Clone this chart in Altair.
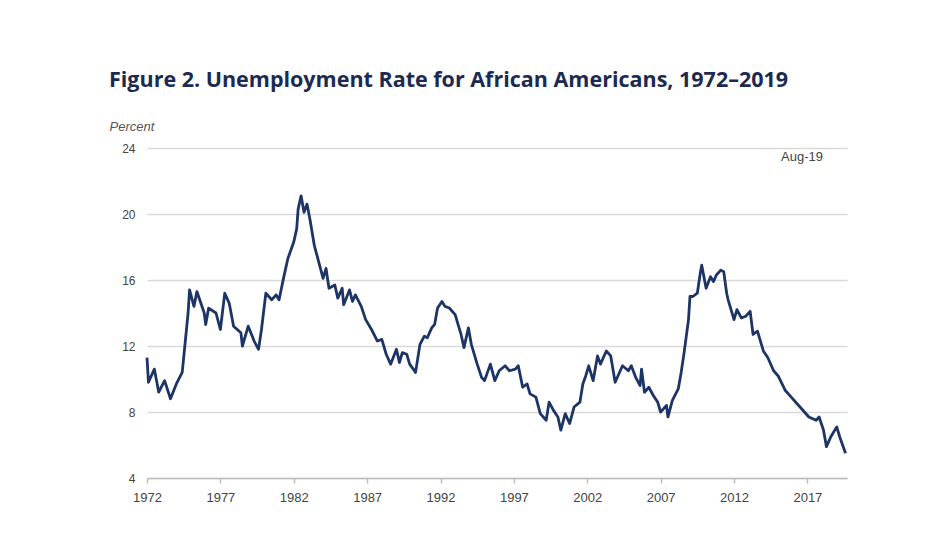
import altair as alt
import pandas as pd

years = [1972.0, 1972.1, 1972.5, 1972.8, 1973.2, 1973.6, 1974.0, 1974.4, 1974.8, 1974.9,
         1975.2, 1975.4, 1975.9, 1976.0, 1976.2, 1976.7, 1977.0, 1977.3, 1977.6, 1977.9,
         1978.4, 1978.5, 1978.9, 1979.3, 1979.6, 1979.8, 1980.1, 1980.5, 1980.8, 1981.0,
         1981.3, 1981.6, 1982.0, 1982.2, 1982.3, 1982.5, 1982.7, 1982.9, 1983.1, 1983.4,
         1983.7, 1984.0, 1984.2, 1984.4, 1984.8, 1985.0, 1985.3, 1985.4, 1985.8, 1986.0,
         1986.2, 1986.6, 1986.9, 1987.3, 1987.7, 1988.0, 1988.3, 1988.6, 1989.0, 1989.2,
         1989.4, 1989.7, 1989.9, 1990.3, 1990.6, 1990.9, 1991.1, 1991.4, 1991.6, 1991.8,
         1992.1, 1992.3, 1992.6, 1993.0, 1993.2, 1993.4, 1993.6, 1993.9, 1994.1, 1994.5,
         1994.8, 1995.0, 1995.4, 1995.7, 1996.0, 1996.4, 1996.7, 1997.1, 1997.3, 1997.6,
         1997.9, 1998.1, 1998.5, 1998.8, 1999.2, 1999.4, 1999.7, 2000.0, 2000.2, 2000.5,
         2000.8, 2001.1, 2001.5, 2001.7, 2001.9, 2002.1, 2002.4, 2002.7, 2002.9, 2003.3,
         2003.6, 2003.9, 2004.4, 2004.8, 2005.0, 2005.3, 2005.6, 2005.7, 2005.9, 2006.2,
         2006.5, 2006.8, 2007.0, 2007.4, 2007.5, 2007.8, 2008.2, 2008.4, 2008.6, 2008.9,
         2009.0, 2009.2, 2009.5, 2009.7, 2009.8, 2010.1, 2010.4, 2010.6, 2010.8, 2011.1,
         2011.3, 2011.5, 2011.6, 2011.9, 2012.0, 2012.2, 2012.5, 2012.8, 2013.1, 2013.3,
         2013.6, 2014.0, 2014.3, 2014.7, 2015.0, 2015.5, 2015.9, 2016.3, 2016.8, 2017.1,
         2017.6, 2017.8, 2018.1, 2018.3, 2018.6, 2019.0, 2019.2, 2019.6]

rates = [11.3, 9.8, 10.6, 9.2, 9.9, 8.8, 9.7, 10.4, 14.0, 15.4,
         14.4, 15.3, 14.0, 13.3, 14.3, 14.0, 13.0, 15.2, 14.6, 13.2,
         12.8, 12.0, 13.2, 12.3, 11.8, 13.0, 15.2, 14.8, 15.1, 14.8,
         16.1, 17.3, 18.3, 19.1, 20.3, 21.1, 20.1, 20.6, 19.7, 18.1,
         17.1, 16.1, 16.7, 15.5, 15.7, 14.9, 15.5, 14.5, 15.4, 14.7,
         15.1, 14.4, 13.6, 13.0, 12.3, 12.4, 11.5, 10.9, 11.8, 11.0,
         11.6, 11.5, 10.9, 10.4, 12.1, 12.6, 12.5, 13.1, 13.3, 14.3,
         14.7, 14.4, 14.3, 13.9, 13.3, 12.7, 11.9, 13.1, 12.1, 10.9,
         10.1, 9.9, 10.9, 9.9, 10.5, 10.8, 10.5, 10.6, 10.8, 9.5,
         9.7, 9.1, 8.9, 7.9, 7.5, 8.6, 8.1, 7.7, 6.9, 7.9,
         7.3, 8.3, 8.6, 9.7, 10.2, 10.8, 9.9, 11.4, 10.9, 11.7,
         11.4, 9.8, 10.8, 10.5, 10.8, 10.1, 9.6, 10.6, 9.2, 9.5,
         9.0, 8.6, 8.0, 8.4, 7.7, 8.7, 9.4, 10.4, 11.6, 13.6,
         15.0, 15.0, 15.2, 16.4, 16.9, 15.5, 16.2, 15.9, 16.3, 16.6,
         16.5, 15.2, 14.8, 13.9, 13.6, 14.2, 13.7, 13.8, 14.1, 12.7,
         12.9, 11.7, 11.3, 10.5, 10.2, 9.3, 8.9, 8.5, 8.0, 7.7,
         7.5, 7.7, 6.9, 5.9, 6.5, 7.1, 6.5, 5.5]

x_ticks = [1972, 1977, 1982, 1987, 1992, 1997, 2002, 2007, 2012, 2017]
y_ticks = [4, 8, 12, 16, 20, 24]

df = pd.DataFrame({"year": years, "rate": rates})

W, H = 700, 330
NAVY = "#1d3466"

line = alt.Chart(df).mark_line(color=NAVY, strokeWidth=2.8, strokeJoin="round").encode(
    x=alt.X("year:Q", scale=alt.Scale(domain=[1972, 2019.7], nice=False, zero=False),
            axis=alt.Axis(values=x_ticks, format="d", title=None, grid=False,
                          labelFlush=False,
                          domainColor="#bdbdbd", domainWidth=1.5, tickColor="#bdbdbd",
                          tickSize=5, tickWidth=1.5, labelFont="Liberation Sans",
                          labelFontSize=13, labelColor="#444444", labelPadding=8)),
    y=alt.Y("rate:Q", scale=alt.Scale(domain=[4, 24], nice=False, zero=False),
            axis=alt.Axis(values=y_ticks, title="Percent", titleAngle=0, titleAlign="left",
                          titleBaseline="alphabetic", titleX=-38, titleY=-18,
                          titleFont="Liberation Sans", titleFontStyle="italic",
                          titleFontWeight="normal", titleFontSize=13, titleColor="#555555",
                          domain=False, ticks=False, gridColor="#d9d9d9", gridWidth=1.5,
                          labelFont="Liberation Sans", labelFontSize=12,
                          labelColor="#444444", labelPadding=12)),
)

note = alt.Chart(pd.DataFrame({"t": ["Aug-19"]})).mark_text(
    align="right", baseline="middle", font="Liberation Sans", fontSize=13, color="#444444"
).encode(x=alt.value(W - 24), y=alt.value(9), text="t:N")

chart = (line + note).properties(
    width=W, height=H,
    background="white",
    autosize=alt.AutoSizeParams(type="none"),
    padding={"left": 139, "top": 140, "right": 20, "bottom": 40},
    title=alt.TitleParams(
        "Figure 2. Unemployment Rate for African Americans, 1972–2019",
        anchor="start", dx=0, offset=29, font="Open Sans", fontSize=21.5,
        fontWeight="bold", color="#1c2a52"),
).configure_view(strokeWidth=0, stroke=None)

chart.save("out.html", embed_options={"renderer": "svg", "actions": False})
